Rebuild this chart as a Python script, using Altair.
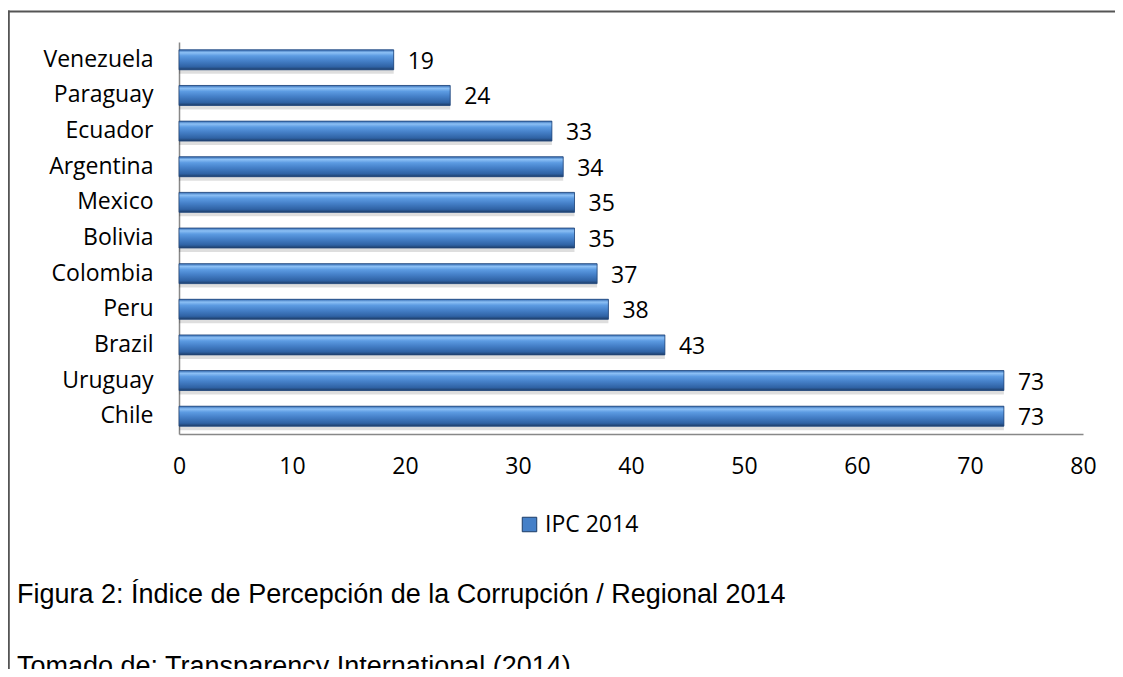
import altair as alt
import pandas as pd

countries = ["Venezuela", "Paraguay", "Ecuador", "Argentina", "Mexico", "Bolivia",
             "Colombia", "Peru", "Brazil", "Uruguay", "Chile"]
values = [19, 24, 33, 34, 35, 35, 37, 38, 43, 73, 73]
series_name = "IPC 2014"
x_ticks = [0, 10, 20, 30, 40, 50, 60, 70, 80]
caption_lines = ["Figura 2: Índice de Percepción de la Corrupción / Regional 2014",
                 "Tomado de: Transparency International (2014)"]

df = pd.DataFrame({"country": countries, "value": values, "serie": [series_name] * len(countries)})

FONT = "Open Sans"
FS = 23
W, H = 904, 392
PAD_L, PAD_T, PAD_R, PAD_B = 171, 34, 32, 235

bar_grad = alt.Gradient(
    gradient="linear", x1=0, y1=0, x2=0, y2=1,
    stops=[
        alt.GradientStop(offset=0.0, color="#336bb3"),
        alt.GradientStop(offset=0.14, color="#8cc0f5"),
        alt.GradientStop(offset=0.30, color="#5c9be2"),
        alt.GradientStop(offset=0.55, color="#4580c8"),
        alt.GradientStop(offset=0.85, color="#2f62a4"),
        alt.GradientStop(offset=1.0, color="#1d3d68"),
    ],
)

y_enc = alt.Y("country:N", sort=countries,
              scale=alt.Scale(paddingInner=0.44),
              axis=alt.Axis(title=None, ticks=False, labelFontSize=FS, labelFont=FONT,
                            labelColor="#000000", labelPadding=26, domainColor="#888888",
                            domainWidth=1.5))
x_enc = alt.X("value:Q", scale=alt.Scale(domain=[0, 80], nice=False),
              axis=alt.Axis(title=None, values=x_ticks, ticks=False, grid=False,
                            labelFlush=False, labelFontSize=FS, labelFont=FONT,
                            labelColor="#000000", labelPadding=21, domainColor="#888888",
                            domainWidth=1.5))

base = alt.Chart(df)

shadow = base.mark_bar(color="#000000", opacity=0.13, yOffset=4).encode(x=x_enc, y=y_enc)

legend_bars = base.mark_bar().encode(
    x=x_enc, y=y_enc,
    color=alt.Color("serie:N", scale=alt.Scale(range=["#4580c8"]),
                    legend=alt.Legend(title=None, orient="none", legendX=339, legendY=471,
                                      symbolType="square", symbolSize=210,
                                      symbolStrokeColor="#1d3d68", symbolStrokeWidth=1,
                                      labelFontSize=FS, labelFont=FONT, labelColor="#000000",
                                      labelOffset=4)),
)

bars = base.mark_bar(color=bar_grad, stroke="#24477a", strokeWidth=0.8).encode(x=x_enc, y=y_enc)

labels = base.mark_text(align="left", baseline="middle", dx=14, dy=2, fontSize=FS,
                        font=FONT, color="#000000").encode(
    x=x_enc, y=y_enc, text=alt.Text("value:Q"))

cap_df = pd.DataFrame({"line": caption_lines})
cap1 = alt.Chart(cap_df).transform_filter(alt.datum.line == caption_lines[0]).mark_text(
    align="left", baseline="middle", fontSize=27, font="Liberation Sans", color="#000000"
).encode(x=alt.value(-162), y=alt.value(553), text="line:N")
cap2 = alt.Chart(cap_df).transform_filter(alt.datum.line == caption_lines[1]).mark_text(
    align="left", baseline="middle", fontSize=27, font="Liberation Sans", color="#000000"
).encode(x=alt.value(-162), y=alt.value(625), text="line:N")

frame_df = cap_df.head(1)
top_line = alt.Chart(frame_df).mark_rect(color="#555555", strokeWidth=0).encode(
    x=alt.value(-PAD_L), x2=alt.value(W + PAD_R + 20),
    y=alt.value(-PAD_T + 2.6), y2=alt.value(-PAD_T + 4.4))
left_line = alt.Chart(frame_df).mark_rect(color="#555555", strokeWidth=0).encode(
    x=alt.value(-PAD_L), x2=alt.value(-PAD_L + 1.8),
    y=alt.value(-PAD_T + 2.6), y2=alt.value(H + PAD_B + 20))

chart = alt.layer(top_line, left_line, shadow, legend_bars, bars, labels, cap1, cap2).properties(
    width=W, height=H,
    background="#ffffff",
    autosize=alt.AutoSizeParams(type="none"),
    padding={"left": PAD_L, "top": PAD_T, "right": PAD_R, "bottom": PAD_B},
).configure_view(stroke=None)

chart.save("out.html", embed_options={"renderer": "svg", "actions": False})
